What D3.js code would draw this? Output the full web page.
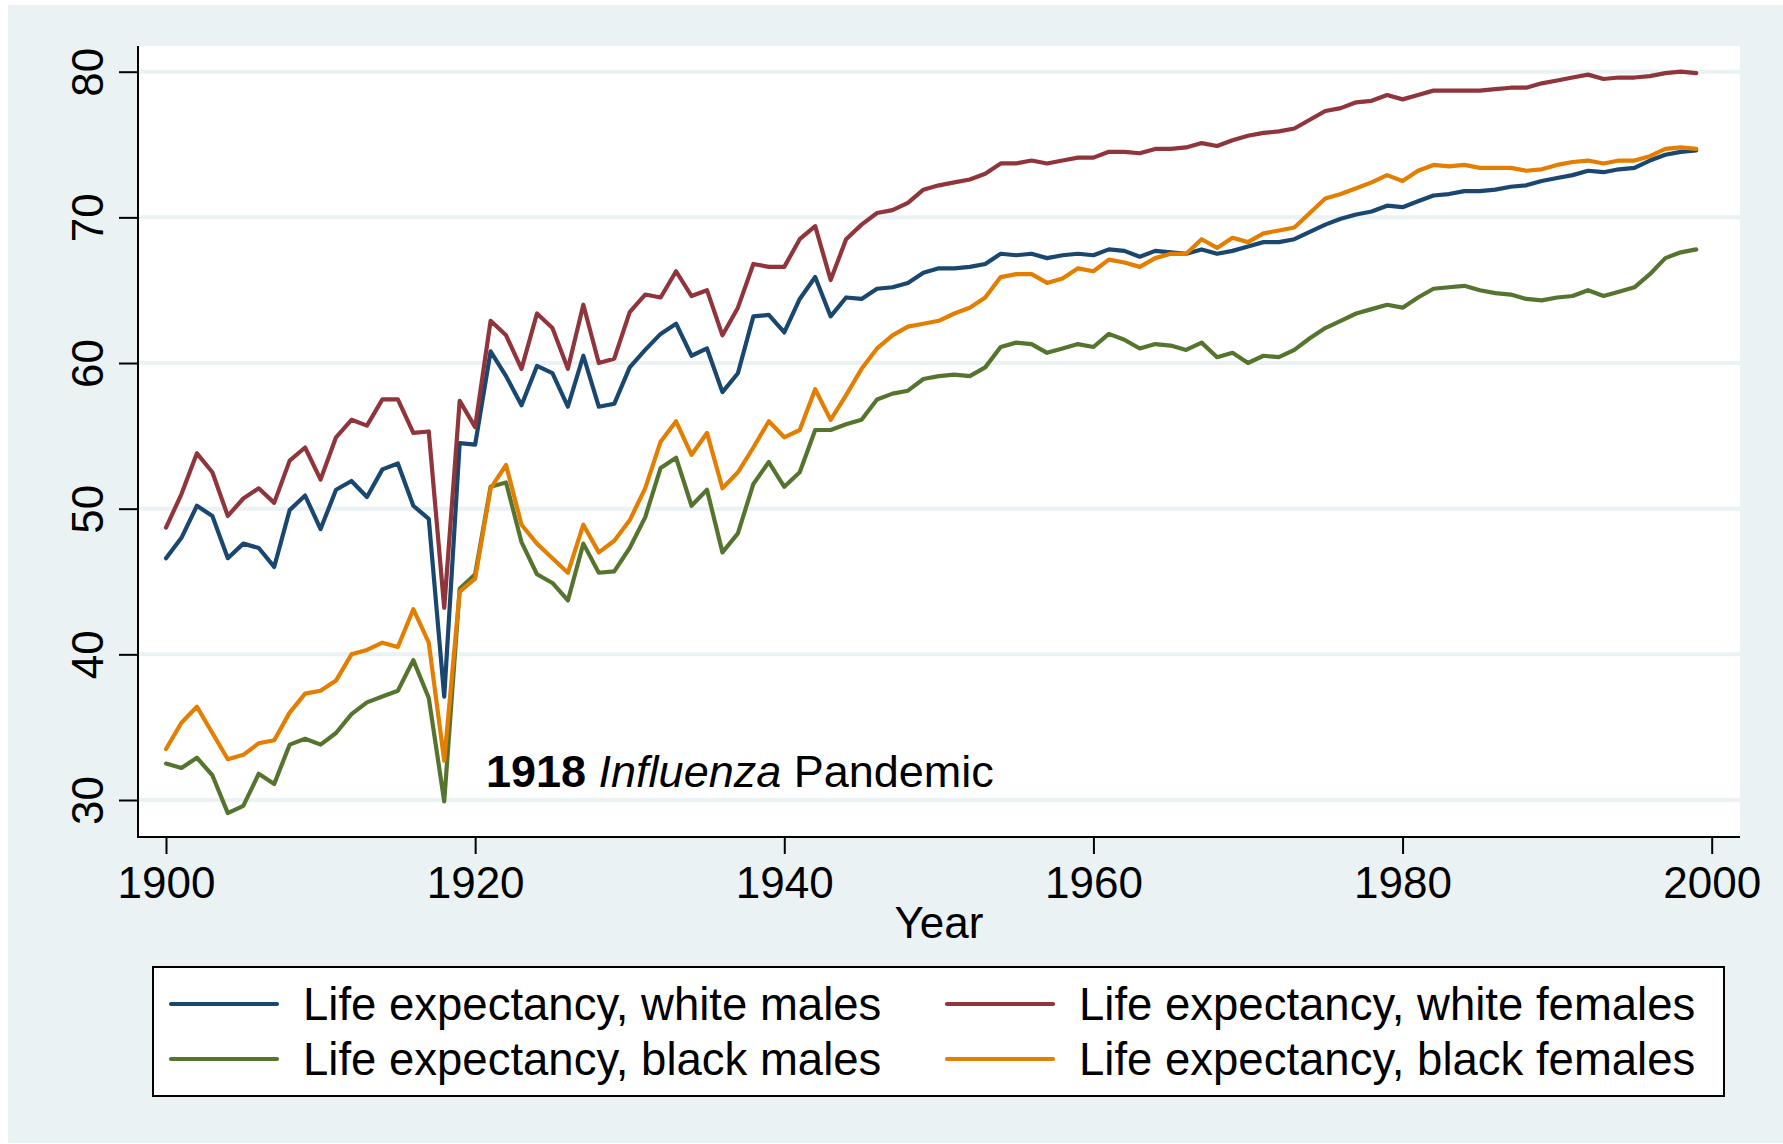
<!DOCTYPE html>
<html>
<head>
<meta charset="utf-8">
<script src="https://cdn.jsdelivr.net/npm/d3@7/dist/d3.min.js"></script>
<style>
  html, body { margin: 0; padding: 0; background: #ffffff; }
  svg { display: block; }
  text { font-family: "Liberation Sans", Arial, Helvetica, sans-serif; fill: #000; }
</style>
</head>
<body>
<svg id="chart" width="1783" height="1144"></svg>
<script>
// ---- data ----
const years = d3.range(1900, 2000); // 1900..1999

const whiteMales = [
  46.6, 48.0, 50.2, 49.5, 46.6, 47.6, 47.3, 46.0, 49.9, 50.9,
  48.6, 51.3, 51.9, 50.8, 52.7, 53.1, 50.2, 49.3, 37.1, 54.5,
  54.4, 60.8, 59.1, 57.1, 59.8, 59.3, 57.0, 60.5, 57.0, 57.2,
  59.7, 60.9, 62.0, 62.7, 60.5, 61.0, 58.0, 59.3, 63.2, 63.3,
  62.1, 64.4, 65.9, 63.2, 64.5, 64.4, 65.1, 65.2, 65.5, 66.2,
  66.5, 66.5, 66.6, 66.8, 67.5, 67.4, 67.5, 67.2, 67.4, 67.5,
  67.4, 67.8, 67.7, 67.3, 67.7, 67.6, 67.5, 67.8, 67.5, 67.7,
  68.0, 68.3, 68.3, 68.5, 69.0, 69.5, 69.9, 70.2, 70.4, 70.8,
  70.7, 71.1, 71.5, 71.6, 71.8, 71.8, 71.9, 72.1, 72.2, 72.5,
  72.7, 72.9, 73.2, 73.1, 73.3, 73.4, 73.9, 74.3, 74.5, 74.6
];

const whiteFemales = [
  48.7, 51.0, 53.8, 52.5, 49.5, 50.7, 51.4, 50.4, 53.3, 54.2,
  52.0, 54.9, 56.1, 55.7, 57.5, 57.5, 55.2, 55.3, 43.2, 57.4,
  55.6, 62.9, 61.9, 59.6, 63.4, 62.4, 59.6, 64.0, 60.0, 60.3,
  63.5, 64.7, 64.5, 66.3, 64.6, 65.0, 61.9, 63.8, 66.8, 66.6,
  66.6, 68.5, 69.4, 65.7, 68.5, 69.5, 70.3, 70.5, 71.0, 71.9,
  72.2, 72.4, 72.6, 73.0, 73.7, 73.7, 73.9, 73.7, 73.9, 74.1,
  74.1, 74.5, 74.5, 74.4, 74.7, 74.7, 74.8, 75.1, 74.9, 75.3,
  75.6, 75.8, 75.9, 76.1, 76.7, 77.3, 77.5, 77.9, 78.0, 78.4,
  78.1, 78.4, 78.7, 78.7, 78.7, 78.7, 78.8, 78.9, 78.9, 79.2,
  79.4, 79.6, 79.8, 79.5, 79.6, 79.6, 79.7, 79.9, 80.0, 79.9
];

const blackMales = [
  32.5, 32.2, 32.9, 31.7, 29.1, 29.6, 31.8, 31.1, 33.8, 34.2,
  33.8, 34.6, 35.9, 36.7, 37.1, 37.5, 39.6, 37.0, 29.9, 44.5,
  45.5, 51.5, 51.8, 47.7, 45.5, 44.9, 43.7, 47.6, 45.6, 45.7,
  47.3, 49.4, 52.8, 53.5, 50.2, 51.3, 47.0, 48.3, 51.7, 53.2,
  51.5, 52.5, 55.4, 55.4, 55.8, 56.1, 57.5, 57.9, 58.1, 58.9,
  59.1, 59.2, 59.1, 59.7, 61.1, 61.4, 61.3, 60.7, 61.0, 61.3,
  61.1, 62.0, 61.6, 61.0, 61.3, 61.2, 60.9, 61.4, 60.4, 60.7,
  60.0, 60.5, 60.4, 60.9, 61.7, 62.4, 62.9, 63.4, 63.7, 64.0,
  63.8, 64.5, 65.1, 65.2, 65.3, 65.0, 64.8, 64.7, 64.4, 64.3,
  64.5, 64.6, 65.0, 64.6, 64.9, 65.2, 66.1, 67.2, 67.6, 67.8
];

const blackFemales = [
  33.5, 35.3, 36.4, 34.6, 32.8, 33.1, 33.9, 34.1, 36.0, 37.3,
  37.5, 38.2, 40.0, 40.3, 40.8, 40.5, 43.1, 40.8, 32.7, 44.3,
  45.2, 51.4, 53.0, 48.9, 47.6, 46.6, 45.6, 48.9, 47.0, 47.8,
  49.2, 51.4, 54.6, 56.0, 53.7, 55.2, 51.4, 52.5, 54.2, 56.0,
  54.9, 55.4, 58.2, 56.1, 57.8, 59.6, 61.0, 61.9, 62.5, 62.7,
  62.9, 63.4, 63.8, 64.5, 65.9, 66.1, 66.1, 65.5, 65.8, 66.5,
  66.3, 67.1, 66.9, 66.6, 67.2, 67.5, 67.5, 68.5, 67.9, 68.6,
  68.3, 68.9, 69.1, 69.3, 70.3, 71.3, 71.6, 72.0, 72.4, 72.9,
  72.5, 73.2, 73.6, 73.5, 73.6, 73.4, 73.4, 73.4, 73.2, 73.3,
  73.6, 73.8, 73.9, 73.7, 73.9, 73.9, 74.2, 74.7, 74.8, 74.7
];

const seriesNames = [
  "Life expectancy, white males",
  "Life expectancy, white females",
  "Life expectancy, black males",
  "Life expectancy, black females"
];
const seriesValues = [whiteMales, whiteFemales, blackMales, blackFemales];
const seriesColors = ["#1a476f", "#90353b", "#55752f", "#e37e00"];

const xTicks = [1900, 1920, 1940, 1960, 1980, 2000];
const yTicks = [30, 40, 50, 60, 70, 80];
const xTitle = "Year";

const annotationYear = 1920.7;
const annotationValue = 32;

// ---- layout ----
const svg = d3.select("#chart");
const W = 1783, H = 1144;
const bg = "#eaf2f3";

const plot = { left: 138, right: 1740, top: 46, bottom: 837 };
const x = d3.scaleLinear().domain([1900, 2000]).range([166, 1711.7]);
const y = d3.scaleLinear().domain([30, 80]).range([800, 71.7]);

// background
svg.append("rect").attr("x", 8).attr("y", 5).attr("width", W - 8).attr("height", 1138).attr("fill", bg);
// plot region
svg.append("rect").attr("x", plot.left).attr("y", plot.top)
  .attr("width", plot.right - plot.left).attr("height", plot.bottom - plot.top).attr("fill", "#ffffff");

// gridlines
svg.append("g").selectAll("line").data(yTicks).join("line")
  .attr("x1", plot.left).attr("x2", plot.right)
  .attr("y1", d => y(d)).attr("y2", d => y(d))
  .attr("stroke", bg).attr("stroke-width", 4);

// series
const line = d3.line().x((d, i) => x(years[i])).y(d => y(d));
svg.append("g").selectAll("path").data(seriesValues).join("path")
  .attr("d", d => line(d))
  .attr("fill", "none")
  .attr("stroke", (d, i) => seriesColors[i])
  .attr("stroke-width", 4.2)
  .attr("stroke-linejoin", "round")
  .attr("stroke-linecap", "round");

// axes
const fontSize = 44;
const bigFont = 45.5;
const yAxis = d3.axisLeft(y).tickValues(yTicks).tickSize(19).tickPadding(0).tickFormat(d3.format("d"));
const gy = svg.append("g").attr("transform", `translate(${plot.left},0)`).call(yAxis);
gy.select(".domain").remove();
gy.selectAll(".tick line").attr("stroke", "#000").attr("stroke-width", 2);
gy.selectAll(".tick text")
  .attr("x", null).attr("dy", null)
  .attr("transform", "translate(-35,0) rotate(-90)")
  .attr("text-anchor", "middle")
  .style("font-size", fontSize + "px")
  .style("font-family", '"Liberation Sans", Arial, sans-serif')
  .attr("fill", "#000");

const xAxis = d3.axisBottom(x).tickValues(xTicks).tickSize(17).tickPadding(0).tickFormat(d3.format("d"));
const gx = svg.append("g").attr("transform", `translate(0,${plot.bottom})`).call(xAxis);
gx.select(".domain").remove();
gx.selectAll(".tick line").attr("stroke", "#000").attr("stroke-width", 2);
gx.selectAll(".tick text")
  .attr("y", 61).attr("dy", null)
  .style("font-size", fontSize + "px")
  .style("font-family", '"Liberation Sans", Arial, sans-serif')
  .attr("fill", "#000");

// axis lines
svg.append("line").attr("x1", plot.left).attr("x2", plot.left).attr("y1", plot.top).attr("y2", plot.bottom + 1)
  .attr("stroke", "#000").attr("stroke-width", 2);
svg.append("line").attr("x1", plot.left - 1).attr("x2", plot.right).attr("y1", plot.bottom).attr("y2", plot.bottom)
  .attr("stroke", "#000").attr("stroke-width", 2);

// x title
svg.append("text").attr("x", (plot.left + plot.right) / 2).attr("y", 938)
  .attr("text-anchor", "middle").style("font-size", fontSize + "px").text(xTitle);

// annotation
const ann = svg.append("text")
  .attr("x", x(annotationYear)).attr("y", y(annotationValue) + 16)
  .style("font-size", "45px");
ann.append("tspan").attr("font-weight", "bold").text("1918");
ann.append("tspan").text(" ");
ann.append("tspan").attr("font-style", "italic").text("Influenza");
ann.append("tspan").text(" Pandemic");

// legend
const lg = svg.append("g");
lg.append("rect").attr("x", 153).attr("y", 967).attr("width", 1571).attr("height", 129)
  .attr("fill", "#ffffff").attr("stroke", "#000").attr("stroke-width", 2);
const colX = [171, 947];
const rowY = [1004, 1059];
seriesNames.forEach((name, i) => {
  const c = i % 2, r = Math.floor(i / 2);
  lg.append("line").attr("x1", colX[c]).attr("x2", colX[c] + 106)
    .attr("y1", rowY[r]).attr("y2", rowY[r])
    .attr("stroke", seriesColors[i]).attr("stroke-width", 4.2).attr("stroke-linecap", "round");
  lg.append("text").attr("x", colX[c] + 132).attr("y", rowY[r] + 16)
    .style("font-size", bigFont + "px").text(name);
});
</script>
</body>
</html>
